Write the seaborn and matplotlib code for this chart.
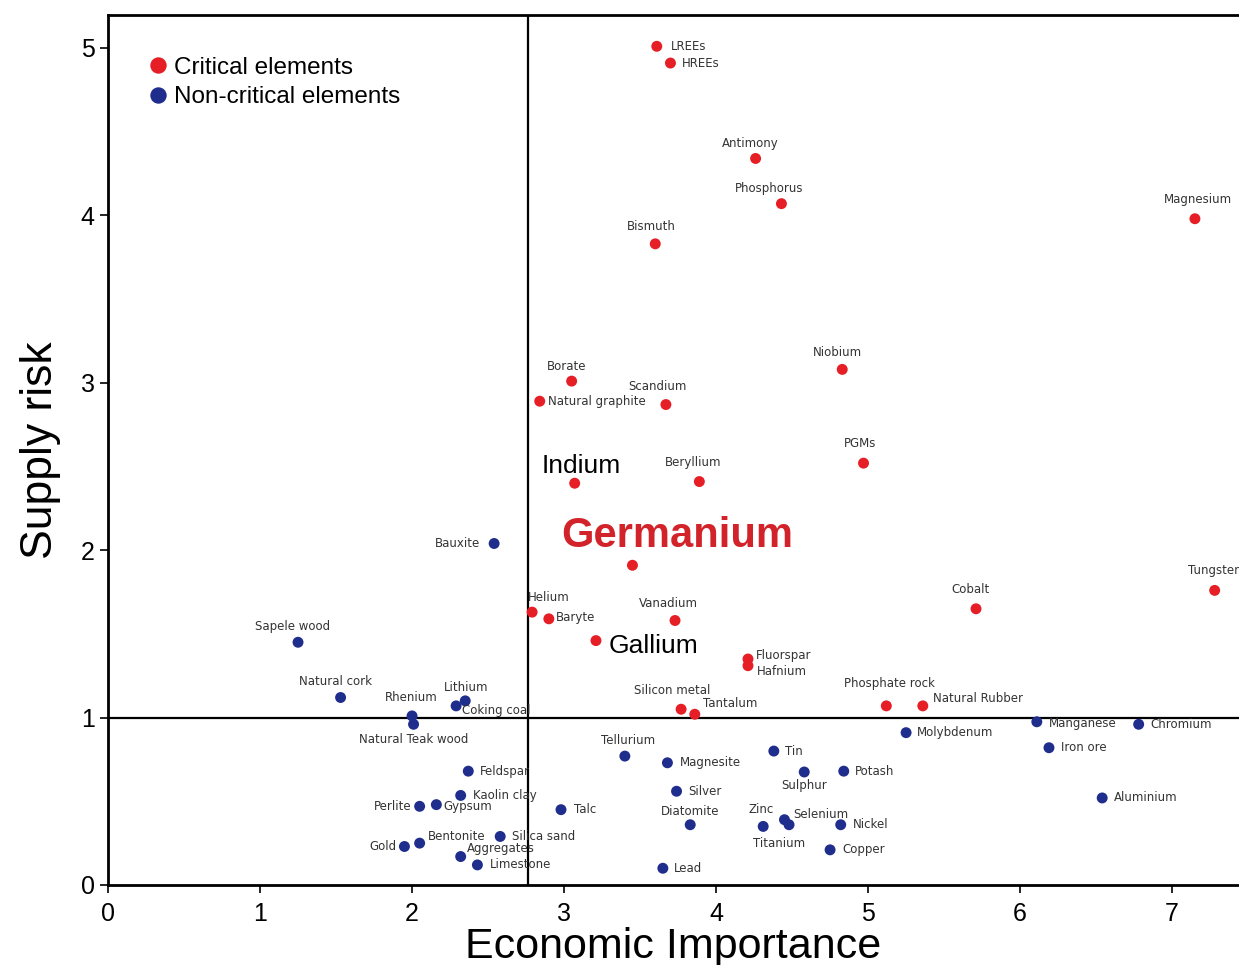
import pandas as pd
import matplotlib
matplotlib.use("Agg")
import matplotlib.pyplot as plt
import seaborn as sns

# ── Data ──────────────────────────────────────────────────────────────────────
critical_names = ["LREEs", "HREEs", "Antimony", "Phosphorus", "Bismuth", "Magnesium",
                  "Borate", "Natural graphite", "Scandium", "Niobium", "Indium",
                  "Beryllium", "PGMs", "Germanium", "Helium", "Baryte", "Vanadium",
                  "Gallium", "Cobalt", "Tungsten", "Fluorspar", "Hafnium",
                  "Silicon metal", "Tantalum", "Phosphate rock", "Natural Rubber"]
critical_x = [3.61, 3.70, 4.26, 4.43, 3.60, 7.15,
              3.05, 2.84, 3.67, 4.83, 3.07,
              3.89, 4.97, 3.45, 2.79, 2.90, 3.73,
              3.21, 5.71, 7.28, 4.21, 4.21,
              3.77, 3.86, 5.12, 5.36]
critical_y = [5.01, 4.91, 4.34, 4.07, 3.83, 3.98,
              3.01, 2.89, 2.87, 3.08, 2.40,
              2.41, 2.52, 1.91, 1.63, 1.59, 1.58,
              1.46, 1.65, 1.76, 1.35, 1.31,
              1.05, 1.02, 1.07, 1.07]

noncrit_names = ["Bauxite", "Sapele wood", "Natural cork", "Rhenium", "Natural Teak wood",
                 "Lithium", "Coking coal", "Feldspar", "Kaolin clay", "Perlite", "Gypsum",
                 "Bentonite", "Gold", "Aggregates", "Limestone", "Silica sand", "Talc",
                 "Tellurium", "Magnesite", "Silver", "Diatomite", "Lead", "Tin",
                 "Sulphur", "Potash", "Zinc", "Selenium", "Titanium", "Nickel", "Copper",
                 "Molybdenum", "Manganese", "Iron ore", "Chromium", "Aluminium"]
noncrit_x = [2.54, 1.25, 1.53, 2.00, 2.01,
             2.35, 2.29, 2.37, 2.32, 2.05, 2.16,
             2.05, 1.95, 2.32, 2.43, 2.58, 2.98,
             3.40, 3.68, 3.74, 3.83, 3.65, 4.38,
             4.58, 4.84, 4.31, 4.45, 4.48, 4.82, 4.75,
             5.25, 6.11, 6.19, 6.78, 6.54]
noncrit_y = [2.04, 1.45, 1.12, 1.01, 0.96,
             1.10, 1.07, 0.68, 0.535, 0.47, 0.48,
             0.25, 0.23, 0.17, 0.12, 0.29, 0.45,
             0.77, 0.73, 0.56, 0.36, 0.10, 0.80,
             0.675, 0.68, 0.35, 0.39, 0.36, 0.36, 0.21,
             0.91, 0.975, 0.82, 0.96, 0.52]

crit_x_line = 2.76
crit_y_line = 1.0

# ── Label layout (offset in pixels, alignment) ────────────────────────────────
label_pos = {
    "LREEs": (14, 0, "left"), "HREEs": (11, 0, "left"),
    "Antimony": (-5, 15, "center"), "Phosphorus": (-12, 15, "center"),
    "Bismuth": (-4, 17, "center"), "Magnesium": (3, 19, "center"),
    "Borate": (-5, 15, "center"), "Natural graphite": (8, 0, "left"),
    "Scandium": (-8, 18, "center"), "Niobium": (-5, 17, "center"),
    "Beryllium": (-6, 19, "center"), "PGMs": (-3, 20, "center"),
    "Helium": (17, 15, "center"), "Baryte": (7, 1, "left"),
    "Vanadium": (-7, 17, "center"), "Cobalt": (-6, 19, "center"),
    "Tungsten": (0, 20, "center"), "Fluorspar": (8, 4, "left"),
    "Hafnium": (9, -6, "left"), "Silicon metal": (-9, 19, "center"),
    "Tantalum": (8, 11, "left"), "Phosphate rock": (3, 22, "center"),
    "Natural Rubber": (10, 7, "left"),
    "Bauxite": (-14, 0, "right"), "Sapele wood": (-5, 16, "center"),
    "Natural cork": (-5, 16, "center"), "Rhenium": (-1, 18, "center"),
    "Natural Teak wood": (0, -15, "center"), "Lithium": (1, 13, "center"),
    "Coking coal": (6, -5, "left"), "Feldspar": (12, 0, "left"),
    "Kaolin clay": (12, 0, "left"), "Perlite": (-8, 0, "right"),
    "Gypsum": (7, -2, "left"), "Bentonite": (37, 7, "center"),
    "Gold": (-8, 0, "right"), "Aggregates": (6, 8, "left"),
    "Limestone": (12, 0, "left"), "Silica sand": (12, 0, "left"),
    "Talc": (13, 0, "left"), "Tellurium": (3, 16, "center"),
    "Magnesite": (12, 0, "left"), "Silver": (12, 0, "left"),
    "Diatomite": (0, 13, "center"), "Lead": (11, 0, "left"),
    "Tin": (11, 0, "left"), "Sulphur": (0, -13, "center"),
    "Potash": (11, 0, "left"), "Zinc": (-2, 17, "center"),
    "Selenium": (9, 5, "left"), "Titanium": (-10, -19, "center"),
    "Nickel": (12, 0, "left"), "Copper": (12, 0, "left"),
    "Molybdenum": (11, 0, "left"), "Manganese": (12, -2, "left"),
    "Iron ore": (12, 0, "left"), "Chromium": (12, 0, "left"),
    "Aluminium": (12, 0, "left"),
}
big_labels = {"Indium": (7, 17), "Gallium": (13, -5)}

# ── Build table ───────────────────────────────────────────────────────────────
df = pd.DataFrame({
    "name": critical_names + noncrit_names,
    "x": critical_x + noncrit_x,
    "y": critical_y + noncrit_y,
    "group": ["Critical elements"] * len(critical_names)
             + ["Non-critical elements"] * len(noncrit_names),
})

sns.set_style("ticks")
plt.rcParams["font.family"] = ["Liberation Sans", "DejaVu Sans"]
plt.rcParams["text.color"] = "black"
plt.rcParams["axes.labelcolor"] = "black"
plt.rcParams["xtick.color"] = "black"
plt.rcParams["ytick.color"] = "black"

RED = "#e61e25"
BLUE = "#1f2d8c"

fig = plt.figure(figsize=(12.39, 9.65), dpi=100)
ax = fig.add_axes([108 / 1239, 80 / 965, 1131 / 1239, 870 / 965])

sns.scatterplot(data=df, x="x", y="y", hue="group",
                hue_order=["Critical elements", "Non-critical elements"],
                palette={"Critical elements": RED, "Non-critical elements": BLUE},
                s=62, linewidth=0, ax=ax, zorder=3)

# criticality thresholds
ax.axvline(crit_x_line, color="black", lw=1.6, zorder=2)
ax.axhline(crit_y_line, color="black", lw=1.6, zorder=2)

# point labels
for _, row in df.iterrows():
    n = row["name"]
    if n in label_pos:
        dx, dy, ha = label_pos[n]
        ax.annotate(n, (row["x"], row["y"]), xytext=(dx, dy),
                    textcoords="offset pixels", ha=ha, va="center",
                    fontsize=8.5, color="#333333", family="DejaVu Sans")
    elif n in big_labels:
        dx, dy = big_labels[n]
        ha = "center" if n == "Indium" else "left"
        ax.annotate(n, (row["x"], row["y"]), xytext=(dx, dy),
                    textcoords="offset pixels", ha=ha, va="center",
                    fontsize=19, color="black")
    elif n == "Germanium":
        ax.annotate(n, (row["x"], row["y"]), xytext=(45, 29),
                    textcoords="offset pixels", ha="center", va="center",
                    fontsize=30, fontweight="bold", color="#d2232a")

ax.set_xlim(0, 7.44)
ax.set_ylim(0, 5.197)
ax.set_xticks(range(0, 8))
ax.set_yticks(range(0, 6))
ax.tick_params(axis="both", labelsize=18, length=6, width=1.2, color="black",
               labelcolor="black")
ax.tick_params(axis="x", pad=6)
for side in ["left", "top", "bottom"]:
    ax.spines[side].set_linewidth(2)
    ax.spines[side].set_color("black")
ax.spines["right"].set_visible(False)

ax.set_xlabel("Economic Importance", fontsize=31, labelpad=1, color="black")
ax.set_ylabel("Supply risk", fontsize=32, labelpad=14, color="black")

handles, labels = ax.get_legend_handles_labels()
leg = ax.legend(handles, labels, loc="upper left", bbox_to_anchor=(0.036, 0.952),
                frameon=False, fontsize=17.5, markerscale=1.5, handlelength=0.8,
                handletextpad=0.25, borderpad=0, borderaxespad=0, labelspacing=0.3)
for t in leg.get_texts():
    t.set_color("black")

plt.savefig("out.png", dpi=100)
plt.close()
